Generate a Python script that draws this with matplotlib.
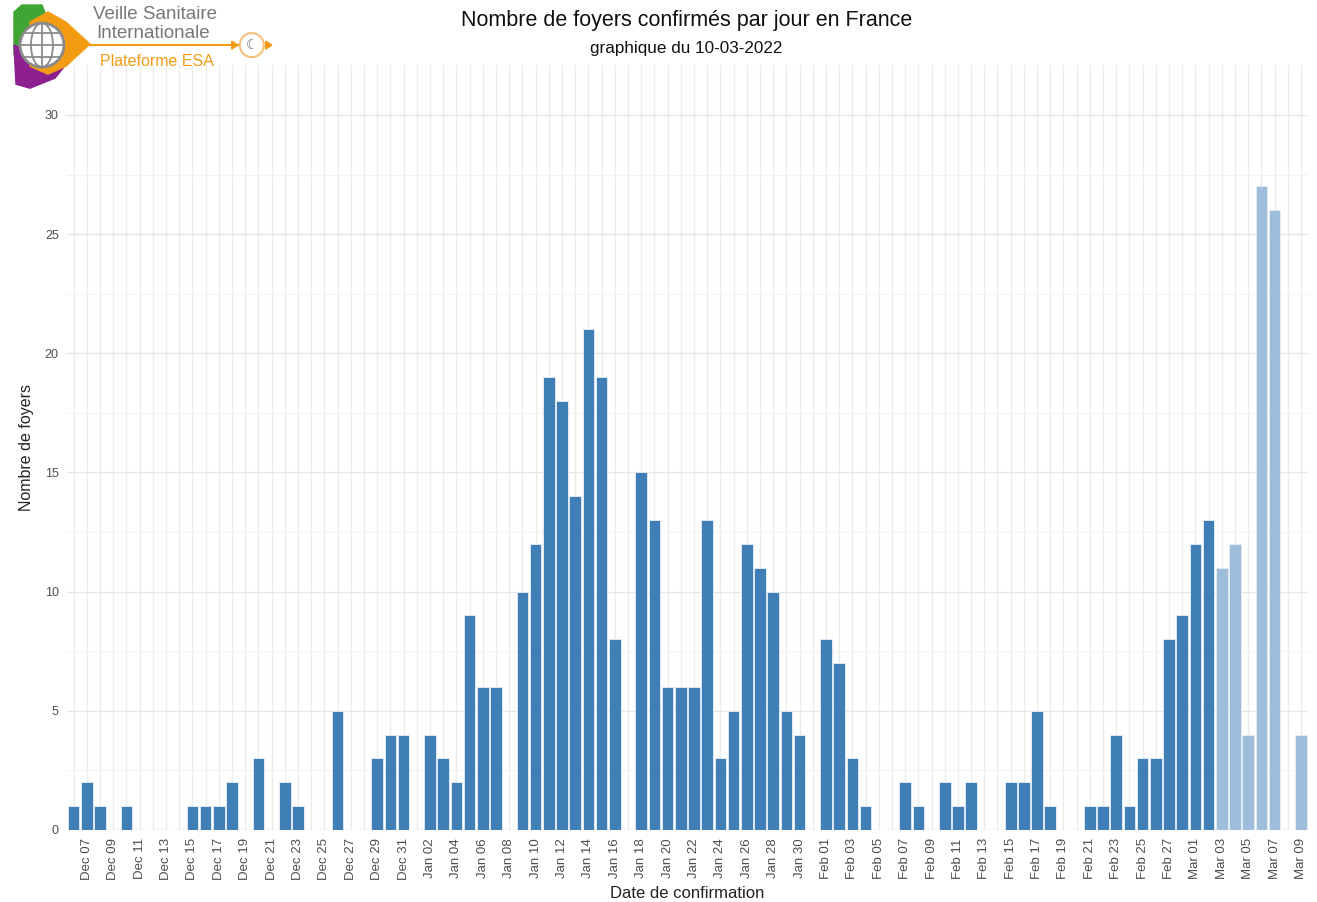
import matplotlib
matplotlib.use("Agg")
import matplotlib.pyplot as plt
import matplotlib.dates as mdates
from matplotlib.patches import Circle, Polygon, Ellipse
import pandas as pd
import numpy as np

plt.rcParams['font.family'] = ['Liberation Sans', 'DejaVu Sans']

title = "Nombre de foyers confirmés par jour en France"
subtitle = "graphique du 10-03-2022"
xlabel = "Date de confirmation"
ylabel = "Nombre de foyers"

start_date = "2021-12-06"
end_date = "2022-03-09"
provisional_from = "2022-03-03"

counts = [
    1, 2, 1, 0, 1, 0, 0, 0, 0, 1, 1, 1, 2, 0, 3, 0, 2, 1, 0, 0, 5, 0, 0, 3, 4, 4,   # Dec 06 - Dec 31
    0, 4, 3, 2, 9, 6, 6, 0, 10, 12, 19, 18, 14, 21, 19, 8, 0, 15, 13, 6, 6, 6, 13,   # Jan 01 - Jan 23
    3, 5, 12, 11, 10, 5, 4, 0,                                                       # Jan 24 - Jan 31
    8, 7, 3, 1, 0, 0, 2, 1, 0, 2, 1, 2, 0, 0, 2, 2, 5, 1, 0, 0, 1, 1, 4, 1, 3, 3, 8, 9,  # Feb
    12, 13, 11, 12, 4, 27, 26, 0, 4,                                                 # Mar 01 - Mar 09
]

dates = pd.date_range(start_date, end_date, freq="D")
assert len(dates) == len(counts)

dark = "#3f7fb5"
light = "#9dbdda"
colors = [light if d >= pd.Timestamp(provisional_from) else dark for d in dates]

fig = plt.figure(figsize=(13.17, 9.02), dpi=100)
ax = fig.add_axes([0.0509, 0.080, 0.942, 0.848])

xnum = mdates.date2num(dates)
ax.bar(xnum, counts, width=0.88, color=colors, edgecolor="#e6eef6", linewidth=0.6, zorder=3)

ax.set_xlim(xnum[0] - 0.5, xnum[-1] + 0.5)
ax.set_ylim(0, 32.1)

# grids
for x in xnum:
    ax.axvline(x, color="#ebebeb", lw=1.0, zorder=0)
for y in np.arange(0, 31, 5):
    ax.axhline(y, color="#e6e6e6", lw=1.0, zorder=0)
for y in np.arange(2.5, 31, 5):
    ax.axhline(y, color="#f3f3f3", lw=0.8, zorder=0)

ax.set_yticks(np.arange(0, 31, 5))
ax.set_yticklabels([str(v) for v in range(0, 31, 5)], fontsize=9, color="#4d4d4d")
tick_dates = dates[1::2]
ax.set_xticks(mdates.date2num(tick_dates))
ax.set_xticklabels([d.strftime("%b %d") for d in tick_dates], rotation=90,
                   fontsize=9.5, color="#4d4d4d")
ax.tick_params(length=0, pad=6)
for s in ax.spines.values():
    s.set_visible(False)

ax.set_xlabel(xlabel, fontsize=12, color="#222222", labelpad=4)
ax.set_ylabel(ylabel, fontsize=11.5, color="#222222")
ax.yaxis.set_label_coords(-0.027, 0.5)

fig.text(0.521, 0.977, title, ha="center", va="center", fontsize=15.5, color="#111111")
fig.text(0.521, 0.946, subtitle, ha="center", va="center", fontsize=12.3, color="#111111")

# logo approximation
lax = fig.add_axes([0.0, 0.900, 0.22, 0.1])
lax.set_xlim(0, 290)
lax.set_ylim(90, 0)
lax.axis("off")
lax.add_patch(Polygon([[14, 12], [22, 5], [42, 5], [48, 20], [30, 45], [14, 55]],
                      closed=True, color="#3fa535"))
lax.add_patch(Polygon([[14, 45], [40, 55], [68, 62], [55, 78], [30, 88], [16, 84]],
                      closed=True, color="#8e1f8f"))
lax.add_patch(Polygon([[30, 22], [48, 12], [66, 22], [90, 44], [66, 66], [48, 74], [30, 66]],
                      closed=True, color="#f39c12"))
lax.add_patch(Circle((42, 45), 22, facecolor="white", edgecolor="#8a8a8a", lw=2))
for yy in [33, 45, 57]:
    hw = np.sqrt(max(22**2 - (yy - 45)**2, 0))
    lax.plot([42 - hw, 42 + hw], [yy, yy], color="#8a8a8a", lw=1.3)
lax.plot([42, 42], [23, 67], color="#8a8a8a", lw=1.3)
lax.add_patch(Ellipse((42, 45), 22, 44, fill=False, edgecolor="#8a8a8a", lw=1.3))
lax.plot([90, 238], [45, 45], color="#f39c12", lw=1.5)
lax.add_patch(Polygon([[232, 41], [238, 45], [232, 49]], closed=True, color="#f39c12"))
lax.add_patch(Circle((252, 45), 12, facecolor="white", edgecolor="#f7c07a", lw=1.5))
lax.text(252, 45, "☾", fontsize=10, color="#666666", ha="center", va="center",
         family=["DejaVu Sans"])
lax.add_patch(Polygon([[266, 41], [272, 45], [266, 49]], closed=True, color="#f39c12"))
lax.text(93, 14, "Veille Sanitaire", fontsize=13.5, color="#777777", va="center")
lax.text(96, 33, "Internationale", fontsize=13.5, color="#777777", va="center")
lax.text(100, 61, "Plateforme ESA", fontsize=11.5, color="#f39c12", va="center")

fig.savefig("out.png", dpi=100)
